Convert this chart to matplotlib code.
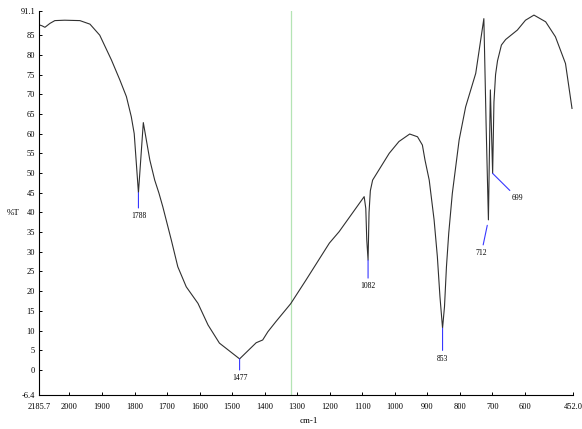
import numpy as np
import matplotlib
matplotlib.use("Agg")
import matplotlib.pyplot as plt

# spectrum: wavenumber (cm-1) and %T
wavenumber = [2185.7, 2170, 2151, 2120, 2090, 2030, 1968, 1937, 1907, 1871,
              1845, 1825, 1810, 1801, 1788, 1773, 1753, 1738, 1725, 1713,
              1687, 1667, 1641, 1605, 1574, 1539, 1477, 1426, 1406, 1390,
              1365, 1320, 1273, 1201, 1171, 1094, 1089, 1086, 1082, 1079,
              1075, 1068, 1017, 987, 954, 930, 915, 907, 894, 879,
              869, 861, 853, 847, 841, 834, 823, 802, 782, 751,
              726, 719, 712, 706, 699, 695, 690, 684, 672, 659,
              623, 598, 572, 536, 506, 475, 455]
transmittance = [87.6, 87.4, 87.0, 88.0, 88.7, 88.8, 88.7, 87.8, 85.0, 78.7,
                 73.6, 69.4, 64.3, 60.0, 45.0, 62.8, 53.3, 48.2, 44.9, 41.4,
                 33.0, 26.2, 21.1, 16.9, 11.4, 6.8, 2.8, 6.9, 7.6, 9.7,
                 12.3, 16.8, 22.8, 32.2, 35.1, 44.0, 41.0, 33.0, 27.9, 40.0,
                 45.5, 48.2, 55.0, 58.0, 59.9, 59.2, 57.1, 53.3, 48.2, 38.1,
                 28.8, 18.6, 10.6, 16.1, 26.2, 34.7, 44.8, 58.4, 66.8, 75.3,
                 89.2, 62.0, 38.1, 71.1, 49.9, 68.0, 75.0, 78.5, 82.5, 83.9,
                 86.3, 88.8, 90.1, 88.4, 84.6, 77.8, 66.4]

peaks = [1788, 1477, 1082, 853, 712, 699]
xticks = [2185.7, 2000, 1900, 1800, 1700, 1600, 1500, 1400, 1300, 1200,
          1100, 1000, 900, 800, 700, 600, 452.0]
xticklabels = ["2185.7", "2000", "1900", "1800", "1700", "1600", "1500", "1400",
               "1300", "1200", "1100", "1000", "900", "800", "700", "600", "452.0"]
yticks = [-6.4, 0, 5, 10, 15, 20, 25, 30, 35, 40, 45, 50, 55, 60, 65, 70, 75, 80, 85, 91.1]
yticklabels = ["-6.4", "0", "5", "10", "15", "20", "25", "30", "35", "40", "45",
               "50", "55", "60", "65", "70", "75", "80", "85", "91.1"]

plt.rcParams['font.family'] = ['Liberation Serif', 'DejaVu Serif']


# axis is compressed by half above 2000 cm-1
def fwd(x):
    x = np.asarray(x, dtype=float)
    return np.where(x > 2000, 2000 + (x - 2000) * 0.5, x)


def inv(x):
    x = np.asarray(x, dtype=float)
    return np.where(x > 2000, 2000 + (x - 2000) * 2.0, x)


fig = plt.figure(figsize=(5.82, 4.29), dpi=100)
ax = fig.add_axes([0.0675, 0.079, 0.917, 0.895])
ax.set_xscale('function', functions=(fwd, inv))

ax.axvline(1318, color='#b4e4b4', lw=0.9, zorder=1)
ax.plot(wavenumber, transmittance, color='#303030', lw=0.8, zorder=2)

ax.set_xlim(2185.7, 452.0)
ax.set_ylim(-6.4, 91.1)

for sp in ['top', 'right']:
    ax.spines[sp].set_visible(False)
for sp in ['left', 'bottom']:
    ax.spines[sp].set_linewidth(0.8)

ax.set_xticks(xticks)
ax.set_xticklabels(xticklabels)
ax.set_yticks(yticks)
ax.set_yticklabels(yticklabels)
ax.xaxis.set_minor_locator(matplotlib.ticker.NullLocator())
ax.tick_params(axis='both', direction='in', length=2.5, width=0.7,
               labelsize=6, pad=3)
ax.tick_params(axis='x', pad=6)

# peak labels (text offset below the band, in points)
wn_rev = np.array(wavenumber)[::-1]
t_rev = np.array(transmittance)[::-1]
offsets = {1788: (0, -14), 1477: (0, -11), 1082: (0, -16), 853: (0, -19),
           712: (-5, -21), 699: (18, -15)}
shrink = {1788: 0, 1477: 0, 1082: 0, 853: 0, 712: 4, 699: 0}
for p in peaks:
    t = np.interp(p, wn_rev, t_rev)
    dx, dy = offsets[p]
    ax.annotate(str(p), xy=(p, t), xytext=(dx, dy), textcoords='offset points',
                ha='center', va='top', fontsize=5.5,
                arrowprops=dict(arrowstyle='-', color='#3838ff', lw=0.8,
                                shrinkA=1, shrinkB=shrink[p]))

fig.text(0.022, 0.503, '%T', fontsize=6.5, ha='center', va='center')
fig.text(0.531, 0.018, 'cm-1', fontsize=6.5, ha='center', va='center')

fig.savefig('out.png', dpi=100, facecolor='white')
